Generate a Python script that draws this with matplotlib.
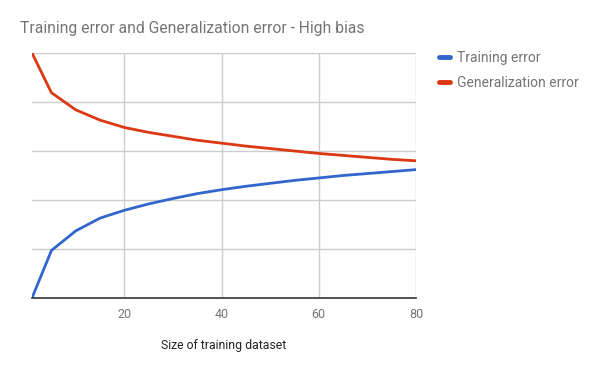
import matplotlib
matplotlib.use("Agg")
import matplotlib.pyplot as plt

plt.rcParams['font.family'] = ['Roboto', 'DejaVu Sans']

# training set size
sizes = [1, 5, 10, 15, 20, 25, 30, 35, 40, 45, 50, 55, 60, 65, 70, 75, 80]

# error values
train_err = [0.0, 0.97, 1.37, 1.63, 1.79, 1.92, 2.03, 2.13, 2.21, 2.28,
             2.34, 2.40, 2.45, 2.50, 2.54, 2.58, 2.62]
gen_err = [5.0, 4.19, 3.84, 3.63, 3.48, 3.38, 3.30, 3.22, 3.16, 3.10,
           3.05, 3.00, 2.95, 2.91, 2.87, 2.83, 2.80]

xticks = [20, 40, 60, 80]

fig = plt.figure(figsize=(6, 3.71), dpi=100)
ax = fig.add_axes([32/600, 1 - 298/371, (416 - 32)/600, (298 - 53)/371])

ax.plot(sizes, train_err, color='#3366cc', lw=2, label='Training error')
ax.plot(sizes, gen_err, color='#dc3912', lw=2, label='Generalization error')

ax.set_xlim(1, 80)
ax.set_ylim(0, 5)
ax.set_xticks(xticks)
ax.set_yticks([1, 2, 3, 4, 5])
ax.set_yticklabels([])
ax.tick_params(axis='both', length=0)
ax.tick_params(axis='x', labelsize=9, labelcolor='#757575', pad=7)
ax.grid(True, color='#cccccc', lw=1)
ax.set_axisbelow(True)
for s in ['top', 'right', 'left']:
    ax.spines[s].set_visible(False)
ax.spines['bottom'].set_color('#333333')
ax.spines['bottom'].set_linewidth(1.2)

fig.text(20/600, 1 - 28/371, 'Training error and Generalization error - High bias',
         fontsize=11.3, color='#757575', va='center', ha='left')
fig.text(224/600, 1 - 345/371, 'Size of training dataset',
         fontsize=8.8, color='#222222', va='center', ha='center')

leg = ax.legend(loc='upper left', bbox_to_anchor=(433/600, 1 - 45/371),
                bbox_transform=fig.transFigure, frameon=False,
                fontsize=10, handlelength=0.8, handletextpad=0.55,
                labelspacing=0.8, borderaxespad=0)
for line in leg.get_lines():
    line.set_linewidth(3.5)
    line.set_solid_capstyle('round')
for t in leg.get_texts():
    t.set_color('#757575')

fig.savefig('out.png', dpi=100)
